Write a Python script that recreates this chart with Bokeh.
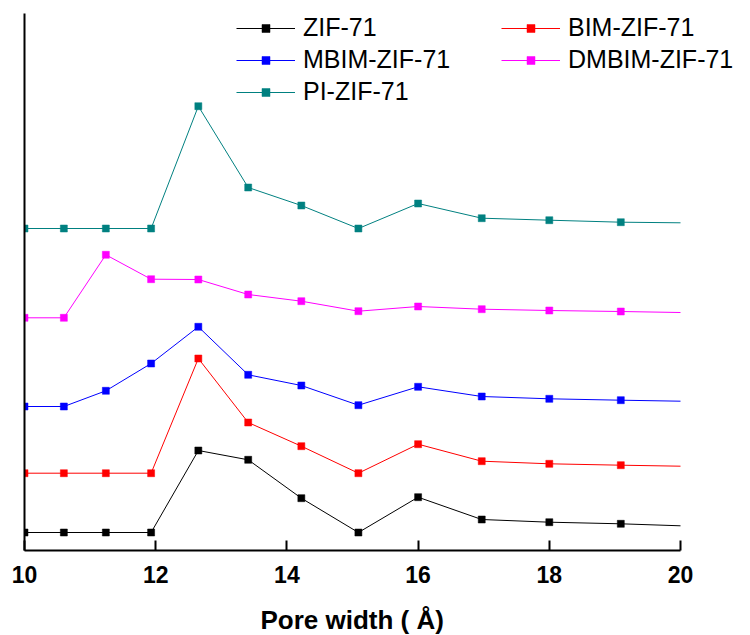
from bokeh.plotting import figure
from bokeh.models import Range1d, FixedTicker, Legend, LegendItem, Title
from bokeh.embed import file_html
from bokeh.resources import INLINE

# Pore widths (Å) of the distribution points
pore_width = [10.0, 10.6, 11.24, 11.93, 12.65, 13.41, 14.22, 15.09, 16.0, 16.97, 18.0, 19.09, 20.0]

# Pore size distribution (a.u.), each curve stacked by its own offset
zif71 = [0, 0, 0, 0, 0.82, 0.727, 0.343, 0, 0.353, 0.13, 0.103, 0.087, 0.067]
bim_zif71 = [0, 0, 0, 0, 1.147, 0.507, 0.27, 0, 0.29, 0.12, 0.094, 0.08, 0.07]
mbim_zif71 = [0, 0, 0.157, 0.43, 0.797, 0.317, 0.21, 0.013, 0.197, 0.10, 0.077, 0.063, 0.053]
dmbim_zif71 = [0, 0, 0.63, 0.386, 0.383, 0.233, 0.166, 0.066, 0.113, 0.086, 0.073, 0.063, 0.053]
pi_zif71 = [0, 0, 0, 0, 1.223, 0.41, 0.23, 0, 0.25, 0.103, 0.083, 0.063, 0.057]

names = ["ZIF-71", "BIM-ZIF-71", "MBIM-ZIF-71", "DMBIM-ZIF-71", "PI-ZIF-71"]
series = [zif71, bim_zif71, mbim_zif71, dmbim_zif71, pi_zif71]
offsets = [0.18, 0.773, 1.44, 2.327, 3.22]
colors = ["#000000", "#FF0000", "#0000FF", "#FF00FF", "#008080"]
x_ticks = [10, 12, 14, 16, 18, 20]

FONT = "Liberation Sans"

# The frame runs past 20 Å so the legend has room; the axis itself stops at 20.
p = figure(frame_width=726, frame_height=537, output_backend="svg", toolbar_location=None,
           x_range=Range1d(10, 21.067), y_range=Range1d(0, 5.37),
           min_border_left=24, min_border_right=0, min_border_top=13,
           min_border_bottom=0)
p.outline_line_color = None
p.xgrid.visible = False
p.ygrid.visible = False
p.background_fill_color = "white"
p.border_fill_color = "white"

renderers = []
for name, vals, off, col in zip(names, series, offsets, colors):
    ys = [v + off for v in vals]
    ln = p.line(pore_width, ys, line_color=col, line_width=1)
    # the last point at 20 Å carries no marker
    mk = p.scatter(pore_width[:-1], ys[:-1], marker="square", size=7,
                   fill_color=col, line_color=col, line_width=0.5)
    renderers.append((name, [ln, mk]))

# x axis
xa = p.xaxis[0]
xa.bounds = (10, 20)
xa.ticker = FixedTicker(ticks=x_ticks)
xa.minor_tick_line_color = None
xa.major_tick_in = 10
xa.major_tick_out = 0
xa.major_tick_line_width = 2
xa.major_tick_line_color = "black"
xa.axis_line_width = 2
xa.axis_line_color = "black"
xa.major_label_text_font = FONT
xa.major_label_text_font_style = "bold"
xa.major_label_text_font_size = "23px"
xa.major_label_text_color = "black"
xa.major_label_standoff = 15

# axis title, centred under the 10-20 Å span
xtitle = Title(text="Pore width ( Å)", align="left", offset=236,
               text_font=FONT, text_font_style="bold", text_font_size="26px",
               text_color="black", standoff=34)
p.add_layout(xtitle, "below")

# y axis: plain line only
ya = p.yaxis[0]
ya.ticker = FixedTicker(ticks=[])
ya.minor_tick_line_color = None
ya.major_tick_line_color = None
ya.major_label_text_font_size = "0px"
ya.axis_line_width = 2
ya.axis_line_color = "black"


def make_legend(items, loc):
    lg = Legend(items=[LegendItem(label=n, renderers=r) for n, r in items],
                location=loc, orientation="vertical",
                glyph_width=59, glyph_height=20, label_standoff=8,
                spacing=3, padding=0, margin=0,
                label_text_font=FONT, label_text_font_size="25px",
                label_text_color="black",
                border_line_color=None, background_fill_alpha=0)
    p.add_layout(lg, "center")
    return lg


make_legend([renderers[0], renderers[2], renderers[4]], (212, 444))
make_legend([renderers[1], renderers[3]], (477, 476))

open("out.html", "w").write(file_html(p, INLINE))
